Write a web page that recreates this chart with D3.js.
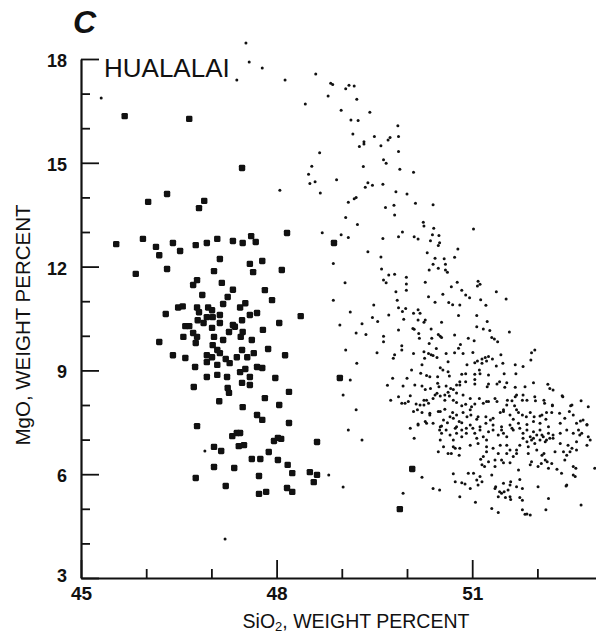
<!DOCTYPE html>
<html><head><meta charset="utf-8">
<script src="https://cdn.jsdelivr.net/npm/d3@7"></script>
<style>
body{margin:0;background:#fff}
svg{display:block;background:#fff}
text{font-family:"Liberation Sans",Arial,Helvetica,sans-serif;fill:#111}
</style>
</head><body>
<svg id="chart" width="596" height="637"></svg>
<script>
const panelLabel = "C";
const volcanoLabel = "HUALALAI";
const xTitleMain = "SiO", xTitleSub = "2", xTitleRest = ", WEIGHT PERCENT";
const yTitle = "MgO, WEIGHT PERCENT";
const xMajorTicks = [45, 48, 51];
const xMinorTicks = [46, 47, 49, 50, 52];
const yMajorTicks = [3, 6, 9, 12, 15, 18];
const yMinorTicks = [4, 5, 7, 8, 10, 11, 13, 14, 16, 17];

// [SiO2, MgO] — large square symbols
const squareSamples = [
[45.67,16.35],[46.66,16.27],[47.47,14.85],[46.03,13.87],[46.32,14.10],[46.81,13.69],[46.89,13.90],
[45.54,12.65],[45.95,12.80],[46.15,12.57],[46.20,12.33],[46.41,12.68],[46.52,12.45],[46.76,12.62],[46.93,12.68],[47.09,12.80],[47.33,12.74],[47.48,12.68],[47.61,12.88],[47.68,12.71],[48.16,12.97],[48.88,12.68],
[45.84,11.79],[46.32,11.93],[47.04,11.87],[47.13,12.22],[47.59,12.08],[47.64,11.84],[46.78,11.61],[46.72,11.47],[47.16,11.53],[47.33,11.33],[46.86,11.18],[47.25,11.12],
[46.30,10.63],[46.49,10.82],[46.56,10.85],[46.78,10.82],[46.81,10.68],[46.95,10.82],[47.01,10.74],[47.18,10.92],[47.44,10.82],[47.52,10.94],[46.93,10.54],[47.02,10.54],[47.13,10.60],[46.79,10.45],[46.88,10.37],[47.13,10.37],[47.33,10.31],[47.47,10.45],[47.59,10.60],[47.70,10.66],[46.60,10.28],[46.66,10.28],
[46.57,9.97],[46.72,10.08],[46.78,9.97],[46.76,9.79],[47.01,10.23],[47.04,9.97],[47.18,9.88],[47.27,10.11],[47.36,10.26],[47.45,9.97],[47.48,10.11],[47.62,9.88],[46.20,9.82],
[47.02,9.73],[47.09,9.59],[46.93,9.44],[47.01,9.38],[47.13,9.50],[47.22,9.33],[47.28,9.21],[47.39,9.38],[47.47,9.59],[47.55,9.38],[47.65,9.50],[46.41,9.44],[46.60,9.36],[46.93,9.24],[47.09,9.16],[46.75,9.10],
[46.93,8.81],[47.09,8.87],[47.24,8.81],[47.44,8.95],[47.52,9.04],[47.59,8.81],[47.70,9.10],[47.47,8.64],[47.59,8.58],[46.73,8.52],[47.25,8.49],[47.27,8.35],[47.12,8.11],[47.48,7.94],[47.70,7.71],
[46.78,7.39],[47.78,7.57],[48.19,7.48],[47.32,7.10],[47.39,7.19],[47.44,7.19],[47.42,6.81],[47.50,6.84],[47.04,6.79],[47.15,6.67],[47.96,6.96],[48.02,7.05],[48.07,7.02],[48.62,6.93],[47.88,6.64],[47.62,6.44],[47.75,6.44],[48.02,6.41],[48.17,6.27],[48.24,6.03],[48.51,6.06],[48.62,5.98],[48.57,5.77],[46.76,5.89],[47.04,6.21],[47.35,6.18],[47.73,5.95],[47.22,5.66],[47.73,5.43],[47.84,5.49],[48.16,5.60],[48.24,5.49],[50.08,6.15],[49.89,4.99],
[47.78,12.16],[48.08,11.90],[47.82,11.32],[47.93,11.03],[48.37,10.57],[47.79,10.17],[48.04,10.37],[47.87,9.62],[48.13,9.44],[47.78,9.07],[47.98,8.78],[48.19,8.38],[47.82,8.20],[48.04,8.00],[48.97,8.78]
];

// [SiO2, MgO] — small dot symbols
const dotSamples = [
[47.53,18.46],[47.58,17.91],[47.78,17.74],[47.39,17.39],[48.13,17.39],[45.31,16.87],
[48.60,17.57],[48.83,17.30],[48.86,17.26],[49.11,17.24],[49.06,17.14],[49.19,17.22],[48.79,16.93],[48.44,16.70],[49.23,16.84],[48.99,16.52],[49.43,16.46],[49.14,16.24],[49.25,16.22],[49.86,16.07],[49.17,15.83],[49.50,15.76],[49.87,15.76],[49.74,15.73],[49.71,15.66],[49.34,15.61],[49.34,15.54],[49.27,15.47],[49.60,15.49],[49.87,15.33],[48.66,15.29],[49.64,15.09],[49.68,14.99],[49.33,14.89],[49.89,14.81],[50.10,14.73],[48.54,14.90],[48.49,14.67],[48.51,14.40],[48.59,14.45],[48.92,14.51],[49.40,14.42],[49.47,14.35],[49.36,14.29],[49.63,14.38],[48.05,14.21],[48.67,14.13],[49.83,14.16],[50.00,14.10],[49.22,14.00],[49.19,13.96],[49.10,13.86],[50.13,13.83],[50.40,13.79],[49.80,13.77],[49.67,13.71],[49.81,13.49],[49.06,13.42],[49.24,13.22],[50.25,13.28],[50.26,13.17],[50.41,13.11],[51.02,13.09],[49.93,13.00],[48.70,12.98],[48.99,12.92],[49.10,12.84],[49.63,12.81],[49.87,12.86],[50.11,12.86],[50.17,12.80],[50.39,12.92],[50.49,12.90],
[50.36,12.75],[50.50,12.69],[50.48,12.61],[49.40,12.43],[49.60,12.28],[50.31,12.40],[50.78,12.51],[50.43,12.24],[50.57,12.23],[50.73,12.27],[50.40,12.07],[50.59,12.07],[50.34,11.90],[50.48,11.95],[50.59,11.90],[50.62,11.84],[49.61,11.93],[49.72,11.76],[49.81,11.78],[49.64,11.61],[49.68,11.53],[49.99,11.69],[49.99,11.50],[49.99,11.32],[50.28,11.55],[49.83,11.27],[50.77,11.55],[50.68,11.42],[51.09,11.58],[51.12,11.49],[51.08,11.44],[51.37,11.27],[50.84,11.32],[50.90,11.18],[50.96,11.10],[50.55,11.20],[50.33,11.13],[51.52,11.06],[51.13,11.04],[49.85,11.03],[50.43,10.97],[50.64,10.96],[50.70,10.90],[50.81,10.89],[51.21,10.88],[49.49,10.89],[49.87,10.81],[49.93,10.70],[49.98,10.79],[50.17,10.75],[50.20,10.65],[50.10,10.65],[49.47,10.53],[49.55,10.41],[49.72,10.60],[49.95,10.48],[50.17,10.46],[50.28,10.46],[50.26,10.39],[50.53,10.39],[50.79,10.59],[51.07,10.59],[49.31,10.35],[51.23,10.41],[49.87,10.17],[50.09,10.21],[50.11,10.19],[50.37,10.20],[50.18,10.07],[50.48,10.04],[50.73,10.02],[51.07,10.26],[51.17,10.20],[51.27,10.15],[51.57,10.11],[49.37,10.04],[49.64,9.99],[50.19,9.93],[50.38,9.93],[50.51,9.99],[50.53,9.95],[50.94,9.93],[51.30,9.95],[51.34,9.91],[51.39,9.83],[49.64,9.83],[49.92,9.71],[50.34,9.78],[50.82,9.75],[51.03,9.86],[50.45,9.63],[50.79,9.64],[49.92,9.59],[49.54,9.51],[49.81,9.45],[49.79,9.35],[50.10,9.49],[50.26,9.54],[50.33,9.49],[50.37,9.45],[50.40,9.43],[50.46,9.37],[50.27,9.35],[50.60,9.49],[50.73,9.51],[50.86,9.49],[51.01,9.52],[51.20,9.37],[51.25,9.40],[51.44,9.45],[51.15,9.33],[51.96,9.59],[51.91,9.51],[51.08,9.27],[51.22,9.27],[51.31,9.33],[51.04,9.22],[51.15,9.21],[51.37,9.13],[51.47,9.21],[50.23,9.16],[50.51,9.08],[50.55,9.01],[50.07,9.01],[50.63,9.25],[50.92,9.16],[51.66,9.16],[51.78,9.11],[51.90,9.30],
[50.21,8.92],[50.30,8.85],[50.35,8.82],[50.47,8.82],[50.63,8.96],[50.65,8.84],[50.84,8.89],[50.90,8.90],[51.04,8.89],[51.11,9.01],[51.12,8.90],[51.25,8.87],[51.49,8.90],[51.67,8.90],[49.78,8.77],[50.00,8.77],[49.70,8.57],[49.94,8.55],[50.12,8.58],[50.23,8.55],[50.28,8.45],[50.36,8.48],[50.47,8.63],[50.49,8.53],[50.60,8.55],[50.67,8.48],[50.63,8.37],[50.71,8.45],[50.76,8.35],[50.81,8.58],[50.81,8.67],[50.90,8.67],[51.04,8.74],[51.04,8.61],[51.25,8.61],[51.23,8.53],[51.38,8.61],[51.42,8.67],[51.53,8.64],[51.50,8.51],[51.66,8.51],[51.81,8.53],[51.94,8.64],[52.16,8.60],[52.19,8.48],[52.24,8.43],[52.38,8.27],[52.67,8.12],[52.51,7.98],[52.23,7.98],[52.11,8.05],[51.96,8.24],[51.97,8.12],[51.78,8.29],[51.77,8.14],[51.66,8.24],[51.61,8.12],[51.53,8.00],[51.65,7.98],[51.68,7.86],[51.48,7.86],[51.38,8.10],[51.22,8.10],[51.17,8.05],[51.04,8.03],[50.99,7.95],[50.97,7.86],[50.90,8.02],[50.84,7.98],[50.76,8.07],[50.71,8.14],[50.65,8.26],[50.58,8.14],[50.51,8.26],[50.46,8.34],[50.40,8.19],[50.33,8.05],[50.26,8.14],[50.20,8.00],[50.14,8.03],[50.05,8.27],[50.02,8.10],[49.97,8.05],[49.92,8.05],[49.87,8.24],[49.75,8.14],
[50.16,7.86],[50.10,7.81],[50.23,7.78],[50.35,7.71],[50.48,7.81],[50.58,7.88],[50.70,7.78],[50.66,7.66],[50.76,7.71],[50.86,7.78],[50.98,7.71],[51.09,7.66],[51.21,7.66],[51.32,7.62],[51.43,7.78],[51.58,7.71],[51.71,7.78],[51.77,7.71],[51.89,7.78],[51.95,7.66],[52.07,7.71],[52.14,7.78],[52.22,7.78],[52.49,7.81],[52.55,7.71],[52.66,7.54],[52.76,7.44],[52.35,7.47],[52.17,7.37],[52.04,7.47],[51.94,7.52],[51.84,7.44],[51.71,7.47],[51.58,7.42],[51.45,7.37],[51.32,7.42],[51.21,7.47],[51.12,7.37],[50.97,7.42],[50.84,7.49],[50.76,7.37],[50.62,7.49],[50.53,7.39],[50.40,7.47],[50.28,7.52],[50.17,7.42],[50.05,7.33],[50.50,7.28],
[50.76,8.58],[50.43,8.29],[50.58,8.29],[50.86,8.29],[50.97,8.19],[51.11,8.19],[51.25,8.10],[51.35,8.19],[51.54,8.14],[51.68,8.29],[51.84,8.14],[52.10,8.14],[52.23,8.00],[52.39,8.24],[52.53,8.00],[52.78,7.95],[50.35,7.76],[50.51,7.81],[50.56,7.57],[50.71,7.62],[50.80,7.52],[50.92,7.66],[51.07,7.59],[51.28,7.57],[51.48,7.81],[51.63,7.59],[51.83,7.66],[52.04,7.68],[52.13,7.59],[52.34,7.76],[52.42,7.62],[52.60,7.47],[52.70,7.57],[50.30,8.14],[50.26,8.00],[50.30,7.47],[50.51,7.37],[50.74,7.33],
[50.60,7.28],[50.76,7.18],[50.84,7.28],[50.91,7.33],[51.01,7.33],[51.04,7.18],[51.12,7.28],[51.17,7.08],[51.25,7.23],[51.40,7.13],[51.45,7.28],[51.53,7.08],[51.61,7.33],[51.73,7.33],[51.78,7.18],[51.84,7.28],[51.89,7.08],[51.94,7.23],[51.99,7.13],[52.04,7.28],[52.09,7.08],[52.17,7.18],[52.24,7.04],[52.35,7.18],[52.45,7.28],[52.55,7.18],[52.65,7.13],[52.78,7.08],[51.78,7.04],[51.84,6.94],[51.91,6.99],[51.96,6.89],[52.04,6.99],[52.12,6.94],[52.19,7.04],[51.73,6.84],[51.86,6.79],
[50.51,6.99],[50.56,6.79],[50.71,6.79],[50.81,6.75],[50.97,6.84],[51.09,6.89],[51.22,6.79],[51.32,6.75],[51.43,6.84],[51.53,6.84],[51.58,6.70],[51.68,6.70],[51.99,6.70],[52.07,6.55],[52.12,6.41],[52.27,6.65],[52.40,6.65],[52.53,6.75],[52.60,6.94],[52.76,6.84],[52.88,6.17],[51.17,6.51],[51.25,6.36],[51.35,6.41],[51.45,6.41],[51.58,6.33],[51.71,6.12],[51.89,6.27],[52.01,6.22],[52.17,6.17],[52.30,6.14],[52.42,6.41],[52.55,6.22],
[50.23,5.91],[50.71,6.01],[50.94,6.03],[51.02,6.03],[51.12,5.93],[51.07,5.83],[51.30,5.98],[50.74,5.78],[50.84,5.75],[50.89,5.72],[50.97,5.59],[51.15,5.78],[50.40,5.59],[50.50,5.54],[51.36,5.64],[51.48,5.74],[51.59,5.78],[51.55,5.54],[51.45,5.45],[51.40,5.35],[51.58,5.35],[51.73,5.33],[52.01,5.64],[52.17,5.30],[52.45,5.69],[52.58,5.93],[50.81,5.35],
[49.31,6.99],[50.11,7.04],[50.17,7.45],[49.94,5.45],[51.05,5.19],[51.30,5.01],[51.40,4.89],[51.77,4.97],[51.81,4.84],[51.84,4.85],[51.89,4.82],[52.13,4.97],[52.67,5.11],[51.51,5.33],[51.59,5.27],[51.77,5.25],
[51.09,5.69],[51.15,6.27],[51.19,6.22],[51.13,6.43],[51.22,6.65],[51.35,6.22],[51.48,6.33],[51.58,5.69],[51.68,5.64],[51.77,5.59],[51.35,5.59],[51.42,5.49],[51.49,5.49],[51.73,5.85],[52.06,6.31],[52.37,6.03],[52.44,5.66],[52.55,5.98],[52.59,6.17],[52.81,6.99],[52.68,7.18],[52.50,6.65],[52.45,6.55],[52.10,6.60],[52.15,6.36],[52.22,6.31],[51.91,6.36],[51.86,6.60],[51.68,6.60],[51.63,6.51],[51.53,6.60],[51.40,6.60],[51.22,6.99],[51.07,7.04],[50.91,7.18],[50.84,7.08],[50.71,6.99],[50.66,7.13],[51.32,7.28],[51.48,7.18],[51.63,7.28],[51.94,7.04],[52.07,7.13],[52.14,6.99],[52.24,7.13],[52.35,6.89],[52.47,6.84],[52.60,6.70],[52.63,7.28],[52.76,7.42],[50.48,6.65],[50.63,6.60],[50.68,6.60],[50.74,6.75],[50.80,6.55],[50.53,7.18],
[46.90,6.67],[47.21,4.13],[48.80,5.98],[49.02,5.63],
[48.87,12.09],[49.05,11.53],[48.87,11.03],[49.13,10.69],[48.97,10.31],[49.22,10.08],[49.06,9.59],[49.23,9.21],[49.13,8.72],[49.02,8.29],[49.22,7.86],[49.10,7.28]
];

const svg = d3.select("#chart");
const ink = "#111";
const x = d3.scaleLinear().domain([45, 53]).range([81, 602.6]);
const y = d3.scaleLinear().domain([3, 18]).range([578, 59]);

// x axis
const gx = svg.append("g").attr("transform", `translate(0,${y(3)})`);
gx.call(d3.axisBottom(x).tickValues(xMajorTicks).tickSizeInner(-18).tickSizeOuter(0)
  .tickPadding(9).tickFormat(d3.format("d")));
const gxm = svg.append("g").attr("transform", `translate(0,${y(3)})`);
gxm.call(d3.axisBottom(x).tickValues(xMinorTicks).tickSizeInner(-9).tickSizeOuter(0).tickFormat(""));
gxm.select(".domain").remove();

// y axis
const gy = svg.append("g").attr("transform", `translate(${x(45)},0)`);
gy.call(d3.axisLeft(y).tickValues(yMajorTicks).tickSizeInner(-18).tickSizeOuter(0)
  .tickPadding(14).tickFormat(d3.format("d")));
const gym = svg.append("g").attr("transform", `translate(${x(45)},0)`);
gym.call(d3.axisLeft(y).tickValues(yMinorTicks).tickSizeInner(-9).tickSizeOuter(0).tickFormat(""));
gym.select(".domain").remove();

svg.selectAll(".domain").attr("stroke", ink).attr("stroke-width", 2.2);
svg.selectAll(".tick line").attr("stroke", ink).attr("stroke-width", 1.8);
gx.selectAll(".tick text").attr("font-size", 19).attr("font-weight", "bold").attr("fill", ink)
  .attr("font-family", '"Liberation Sans", Arial, sans-serif');
gy.selectAll(".tick text").attr("font-size", 18).attr("font-weight", "bold").attr("fill", ink)
  .attr("font-family", '"Liberation Sans", Arial, sans-serif').attr("dy", "0.42em");
gy.selectAll(".tick").filter(d => d === 3).select("text").attr("dy", "0.2em");

// marks
svg.append("g").selectAll("circle").data(dotSamples).join("circle")
  .attr("cx", d => x(d[0])).attr("cy", d => y(d[1])).attr("r", 1.5).attr("fill", ink);
svg.append("g").selectAll("rect").data(squareSamples).join("rect")
  .attr("x", d => x(d[0]) - 3.2).attr("y", d => y(d[1]) - 3.2)
  .attr("width", 6.4).attr("height", 6.4).attr("rx", 1.4).attr("fill", ink);

// labels
svg.append("text").attr("x", 73).attr("y", 33).attr("font-size", 32)
  .attr("font-weight", "bold").attr("font-style", "italic").text(panelLabel);
svg.append("text").attr("x", 104).attr("y", 77).attr("font-size", 26).text(volcanoLabel);

const xt = svg.append("text").attr("x", 356).attr("y", 628).attr("text-anchor", "middle").attr("font-size", 19.5);
xt.append("tspan").text(xTitleMain);
xt.append("tspan").attr("dy", 3).attr("font-size", 13).text(xTitleSub);
xt.append("tspan").attr("dy", -3).text(xTitleRest);

svg.append("text").attr("transform", "translate(30,325) rotate(-90)")
  .attr("text-anchor", "middle").attr("font-size", 20.5).text(yTitle);
</script>
</body></html>
